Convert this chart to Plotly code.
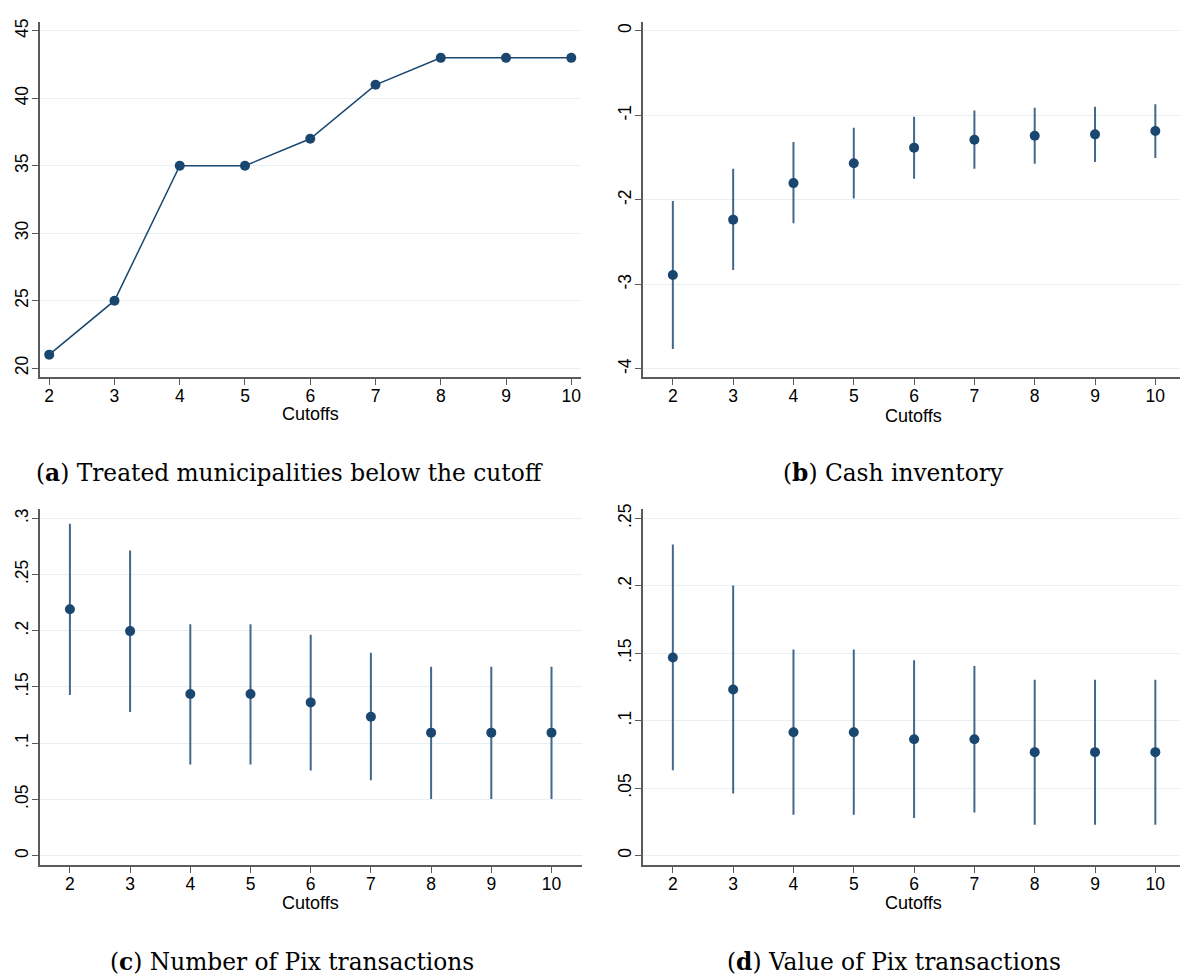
import plotly.graph_objects as go

W, H = 1180, 976

cutoffs = [2, 3, 4, 5, 6, 7, 8, 9, 10]

# (a) Treated municipalities below the cutoff
treated = [21, 25, 35, 35, 37, 41, 43, 43, 43]

# (b) Cash inventory
cash_est = [-2.89, -2.234, -1.802, -1.566, -1.382, -1.288, -1.241, -1.225, -1.186]
cash_hi = [-2.014, -1.633, -1.315, -1.146, -1.017, -0.942, -0.911, -0.899, -0.868]
cash_lo = [-3.765, -2.831, -2.277, -1.983, -1.751, -1.633, -1.574, -1.551, -1.504]

# (c) Number of Pix transactions
num_est = [0.2192, 0.1997, 0.1437, 0.1437, 0.1363, 0.1236, 0.1094, 0.1094, 0.1094]
num_hi = [0.2953, 0.2714, 0.2059, 0.2059, 0.1965, 0.1805, 0.1681, 0.1681, 0.1681]
num_lo = [0.1428, 0.1277, 0.0811, 0.0811, 0.0758, 0.0670, 0.0504, 0.0504, 0.0504]

# (d) Value of Pix transactions
val_est = [0.1468, 0.1232, 0.0914, 0.0914, 0.0863, 0.0863, 0.0767, 0.0767, 0.0767]
val_hi = [0.2306, 0.2003, 0.1527, 0.1527, 0.1448, 0.1406, 0.1303, 0.1303, 0.1303]
val_lo = [0.0632, 0.0460, 0.0302, 0.0302, 0.0278, 0.0320, 0.0229, 0.0229, 0.0229]

ticks_a = [20, 25, 30, 35, 40, 45]
ticks_a_text = ["20", "25", "30", "35", "40", "45"]
ticks_b = [-4, -3, -2, -1, 0]
ticks_b_text = ["-4", "-3", "-2", "-1", "0"]
ticks_c = [0, 0.05, 0.1, 0.15, 0.2, 0.25, 0.3]
ticks_c_text = ["0", ".05", ".1", ".15", ".2", ".25", ".3"]
ticks_d = [0, 0.05, 0.1, 0.15, 0.2, 0.25]
ticks_d_text = ["0", ".05", ".1", ".15", ".2", ".25"]

captions = [
    "(<b>a</b>) Treated municipalities below the cutoff",
    "(<b>b</b>) Cash inventory",
    "(<b>c</b>) Number of Pix transactions",
    "(<b>d</b>) Value of Pix transactions",
]
xlabel = "Cutoffs"

NAVY = "#1a476f"
SPIKE = "#43688b"
GRID = "#e9f0f2"
AXIS = "#5a5a5a"

fig = go.Figure()

def px_x(p):
    return p / W

def px_y(p):
    return 1 - p / H

# panel a
fig.add_trace(go.Scatter(
    x=cutoffs, y=treated, mode="lines+markers",
    line=dict(color=NAVY, width=1.5),
    marker=dict(color=NAVY, size=10),
    xaxis="x", yaxis="y", showlegend=False))

def ci_trace(est, hi, lo, xa, ya):
    return go.Scatter(
        x=cutoffs, y=est, mode="markers",
        marker=dict(color=NAVY, size=10),
        error_y=dict(type="data", symmetric=False,
                     array=[h - e for h, e in zip(hi, est)],
                     arrayminus=[e - l for l, e in zip(lo, est)],
                     color=SPIKE, thickness=2, width=0),
        xaxis=xa, yaxis=ya, showlegend=False)

fig.add_trace(ci_trace(cash_est, cash_hi, cash_lo, "x2", "y2"))
fig.add_trace(ci_trace(num_est, num_hi, num_lo, "x3", "y3"))
fig.add_trace(ci_trace(val_est, val_hi, val_lo, "x4", "y4"))

tickfont = dict(family="Liberation Sans, Arial, sans-serif", size=17.5, color="black")

def xaxis(domain, rng, anchor):
    return dict(domain=domain, range=rng, anchor=anchor,
                tickvals=cutoffs, ticktext=[str(c) for c in cutoffs],
                showgrid=False, zeroline=False,
                showline=True, linecolor=AXIS, linewidth=1.5,
                ticks="outside", ticklen=6, tickcolor=AXIS, tickwidth=1.2,
                ticklabelstandoff=-4,
                tickfont=tickfont, fixedrange=True)

def yaxis(domain, rng, anchor, vals, text):
    return dict(domain=domain, range=rng, anchor=anchor,
                tickvals=vals, ticktext=text, tickangle=-90,
                showgrid=True, gridcolor=GRID, gridwidth=1.2,
                zeroline=False,
                showline=True, linecolor=AXIS, linewidth=1.5,
                ticks="outside", ticklen=6, tickcolor=AXIS, tickwidth=1.2,
                ticklabelstandoff=-3,
                tickfont=tickfont, fixedrange=True)

top_dom = [px_y(374.3), px_y(16.7)]
bot_dom = [px_y(864.3), px_y(506.7)]

fig.update_layout(
    width=W, height=H,
    margin=dict(l=0, r=0, t=0, b=0),
    paper_bgcolor="white", plot_bgcolor="white",
    showlegend=False,
    xaxis=xaxis([px_x(39.5), px_x(581)], [1.851, 10.149], "y"),
    yaxis=yaxis(top_dom, [19.314, 45.686], "x", ticks_a, ticks_a_text),
    xaxis2=xaxis([px_x(642.7), 1.0], [1.5, 10.409], "y2"),
    yaxis2=yaxis(top_dom, [-4.101, 0.1095], "x2", ticks_b, ticks_b_text),
    xaxis3=xaxis([px_x(39.8), px_x(581.6)], [1.5, 10.5], "y3"),
    yaxis3=yaxis(bot_dom, [-0.00823, 0.30823], "x3", ticks_c, ticks_c_text),
    xaxis4=xaxis([px_x(642.7), 1.0], [1.5, 10.409], "y4"),
    yaxis4=yaxis(bot_dom, [-0.00686, 0.25686], "x4", ticks_d, ticks_d_text),
)

# axis titles
xt_pos = [(310.5, 411), (913.8, 413), (310.7, 903), (913.8, 903)]
for (xp, yp) in xt_pos:
    fig.add_annotation(text=xlabel, x=px_x(xp), y=px_y(yp), xref="paper", yref="paper",
                       xanchor="center", yanchor="middle", showarrow=False,
                       font=dict(family="Liberation Sans, Arial, sans-serif", size=18, color="black"))

cap_pos = [(289.6, 470), (893.5, 470), (292, 961), (894, 961)]
for text, (xp, yp) in zip(captions, cap_pos):
    fig.add_annotation(text=text, x=px_x(xp), y=px_y(yp), xref="paper", yref="paper",
                       xanchor="center", yanchor="middle", showarrow=False,
                       font=dict(family="DejaVu Serif, serif", size=23.3, color="black"))

fig.write_html("out.html",
               config={"displayModeBar": False},
               post_script="document.body.style.margin='0';document.body.style.overflow='hidden';")
